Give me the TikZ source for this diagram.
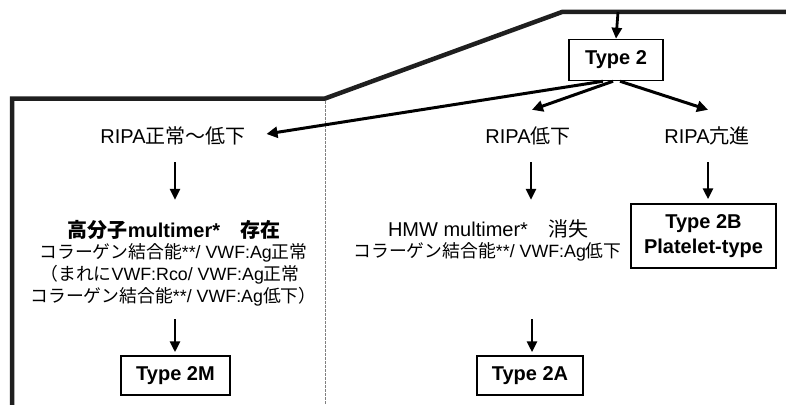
\documentclass[tikz,border=0pt]{standalone}
\usepackage{fontspec}
\setmainfont{Liberation Sans}
\newfontfamily\cjk{Noto Sans CJK JP}
\newcommand{\jtext}[1]{{\cjk #1}}
\usetikzlibrary{arrows.meta}
\begin{document}
\begin{tikzpicture}[x=1pt,y=-1pt,
  lab/.style={inner sep=0pt, text height=14pt, text depth=4pt, anchor=base, font=\fontsize{20}{24}\selectfont},
  sub/.style={inner sep=0pt, text height=13pt, text depth=4pt, anchor=base, font=\fontsize{17.8}{21}\selectfont},
  typebox/.style={draw=black, line width=1.5pt, inner sep=0pt, align=center, font=\fontsize{20}{25}\selectfont\bfseries},
  varr/.style={line width=2.8pt, -{Triangle[length=11pt,width=10pt]}},
  darr/.style={line width=3pt, -{Triangle[length=11pt,width=11pt]}},
  frame/.style={line width=4.5pt, draw={black!88}, line join=miter},
  divider/.style={draw=gray, line width=0.8pt, dash pattern=on 2.5pt off 1.5pt}]
\useasboundingbox (0,0) rectangle (786,404);

% frame and divider
\draw[frame] (12,408) -- (12,98.5) -- (325,98.5) -- (562,12) -- (790,12);
\draw[divider] (325,101) -- (325,404);

% nodes
\coordinate (topc) at (617,12);
\node[typebox, minimum width=94pt, minimum height=41pt] (t2) at (616,60) {Type 2};

\node[lab] (ripaL) at (173,143) {RIPA\jtext{正常～低下}};
\node[lab] (ripaM) at (528,143) {RIPA\jtext{低下}};
\node[lab] (ripaR) at (707,143) {RIPA\jtext{亢進}};

\node[lab, font=\fontsize{20}{24}\selectfont\bfseries] (l1) at (174,237) {\jtext{\bfseries 高分子}multimer*\jtext{\bfseries 　存在}};
\node[sub] (l2) at (173.5,258) {\jtext{コラーゲン結合能}**/ VWF:Ag\jtext{正常}};
\node[sub] (l3) at (170,280) {\jtext{（まれに}VWF:Rco/ VWF:Ag\jtext{正常}};
\node[sub] (l4) at (173.5,302) {\jtext{コラーゲン結合能}**/ VWF:Ag\jtext{低下）}};

\node[lab] (m1) at (488,236) {HMW multimer*\jtext{　消失}};
\node[sub] (m2) at (487.5,257) {\jtext{コラーゲン結合能}**/ VWF:Ag\jtext{低下}};

\node[typebox, minimum width=145pt, minimum height=64pt] (t2b) at (703.5,236) {Type 2B\\Platelet-type};
\node[typebox, minimum width=109pt, minimum height=39pt] (t2m) at (175.5,375.5) {Type 2M};
\node[typebox, minimum width=106pt, minimum height=39pt] (t2a) at (530,375.5) {Type 2A};

% connectors
\draw[varr] ([xshift=1pt]topc) -- (t2.north);
\draw[darr] ([xshift=-13pt]t2.south) -- ([xshift=20.7pt,yshift=4pt]ripaL.east);
\draw[darr] ([xshift=-3pt]t2.south) -- ([xshift=4pt,yshift=19pt]ripaM.north);
\draw[darr] ([xshift=4pt]t2.south) -- ([xshift=1pt,yshift=19pt]ripaR.north);

\draw[varr] ([xshift=2pt,yshift=-15pt]ripaL.south) -- ([xshift=1pt,yshift=23pt]l1.north);
\draw[varr] ([xshift=3pt,yshift=-15pt]ripaM.south) -- ([xshift=43pt,yshift=22pt]m1.north);
\draw[varr] ([xshift=1pt,yshift=-15pt]ripaR.south) -- ([xshift=4.5pt,yshift=4pt]t2b.north);

\draw[varr] ([xshift=1.5pt,yshift=-13pt]l4.south) -- ([xshift=-0.5pt,yshift=3pt]t2m.north);
\draw[varr] ([xshift=44.5pt,yshift=-58pt]m2.south) -- ([xshift=2pt,yshift=3pt]t2a.north);
\end{tikzpicture}
\end{document}
